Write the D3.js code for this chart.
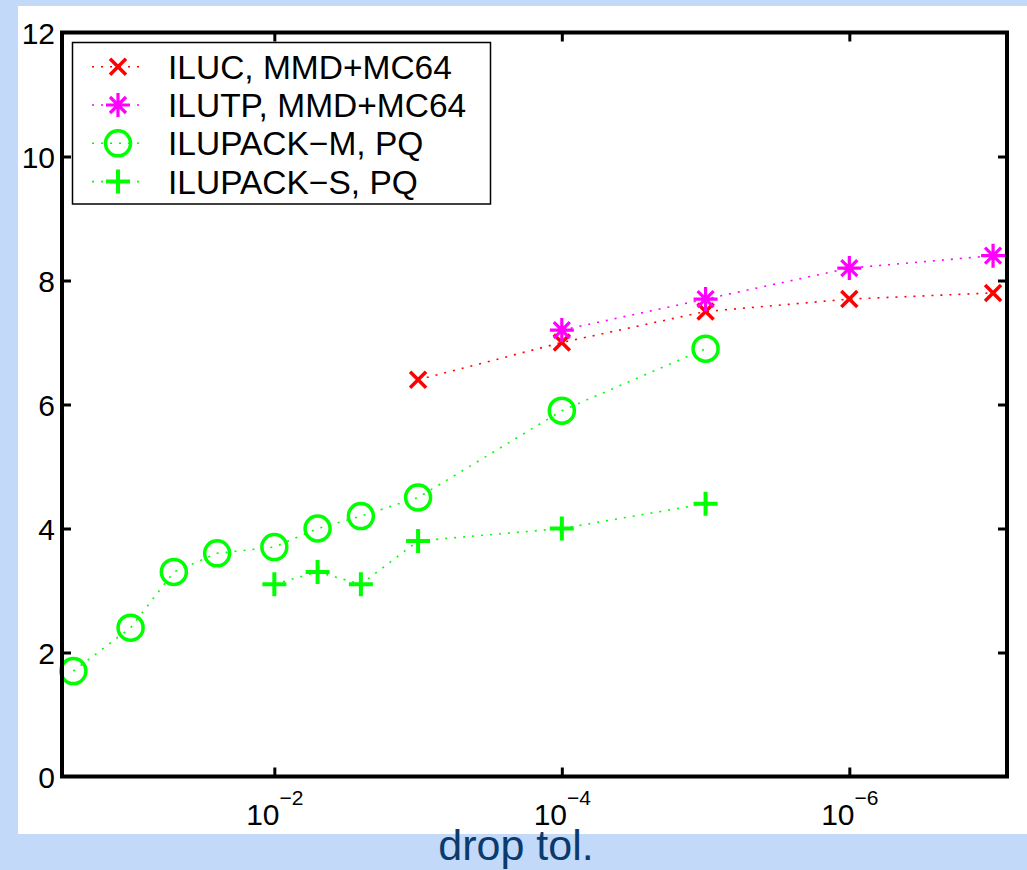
<!DOCTYPE html>
<html>
<head>
<meta charset="utf-8">
<script src="https://cdn.jsdelivr.net/npm/d3@7"></script>
<style>
  body { margin: 0; background: #c2d9fa; }
  svg { display: block; font-family: "Liberation Sans", Arial, sans-serif; }
</style>
</head>
<body>
<svg width="1027" height="870"></svg>
<script>

// drop tolerances (x) and values (y) per method
const tolILUC = [1e-3, 1e-4, 1e-5, 1e-6, 1e-7];
const valILUC = [6.4, 7.0, 7.5, 7.7, 7.8];

const tolILUTP = [1e-4, 1e-5, 1e-6, 1e-7];
const valILUTP = [7.2, 7.7, 8.2, 8.4];

const tolM = [0.25, 0.1, 0.05, 0.025, 0.01, 5e-3, 2.5e-3, 1e-3, 1e-4, 1e-5];
const valM = [1.7, 2.4, 3.3, 3.6, 3.7, 4.0, 4.2, 4.5, 5.9, 6.9];

const tolS = [0.01, 5e-3, 2.5e-3, 1e-3, 1e-4, 1e-5];
const valS = [3.1, 3.3, 3.1, 3.8, 4.0, 4.4];

const seriesNames = ['ILUC, MMD+MC64', 'ILUTP, MMD+MC64', 'ILUPACK\u2212M, PQ', 'ILUPACK\u2212S, PQ'];
const xTicks = [1e-2, 1e-4, 1e-6];
const yTicks = [0, 2, 4, 6, 8, 10, 12];
const xDomain = [0.3, 8e-8];
const yDomain = [0, 12];

const series = [
  { name: seriesNames[0], tol: tolILUC, val: valILUC, color: '#ff0000', marker: 'x' },
  { name: seriesNames[1], tol: tolILUTP, val: valILUTP, color: '#ff00ff', marker: 'star' },
  { name: seriesNames[2], tol: tolM, val: valM, color: '#00ff00', marker: 'circle' },
  { name: seriesNames[3], tol: tolS, val: valS, color: '#00ff00', marker: 'plus' }
];

const svg = d3.select('svg');
const plotL = 62, plotR = 1007, plotT = 32.5, plotB = 776.5;

svg.append('rect').attr('x', 18).attr('y', 6).attr('width', 1009).attr('height', 828).attr('fill', '#fff');

const x = d3.scaleLog().domain(xDomain).range([plotL, plotR]);
const y = d3.scaleLinear().domain(yDomain).range([plotB, plotT]);

// lines + markers
const line = d3.line().x(d => x(d[0])).y(d => y(d[1]));
const dots = '2 7';

function drawMarker(g, type, color) {
  g.attr('stroke', color).attr('fill', 'none');
  if (type === 'x') {
    g.attr('stroke-width', 3.5);
    g.append('path').attr('d', 'M-8,-8L8,8M-8,8L8,-8');
  } else if (type === 'star') {
    g.attr('stroke-width', 3.2);
    g.append('path').attr('d', 'M0,-12V12M-12,0H12M-8,-8L8,8M-8,8L8,-8');
  } else if (type === 'circle') {
    g.attr('stroke-width', 3.5);
    g.append('circle').attr('r', 12.5);
  } else {
    g.attr('stroke-width', 4);
    g.append('path').attr('d', 'M0,-12V12M-12,0H12');
  }
}

series.forEach(s => {
  const pts = d3.zip(s.tol, s.val);
  svg.append('path')
    .attr('d', line(pts))
    .attr('fill', 'none')
    .attr('stroke', s.color)
    .attr('stroke-width', 1.6)
    .attr('stroke-dasharray', dots);
  pts.forEach(p => {
    const g = svg.append('g').attr('transform', `translate(${x(p[0])},${y(p[1])})`);
    drawMarker(g, s.marker, s.color);
  });
});

// axes, ticks inward on all four sides
const tick = 9;
const fmtNone = () => '';

const gBottom = svg.append('g').attr('transform', `translate(0,${plotB})`)
  .call(d3.axisBottom(x).tickValues(xTicks).tickSizeInner(-tick).tickSizeOuter(0).tickPadding(16));
const gTop = svg.append('g').attr('transform', `translate(0,${plotT})`)
  .call(d3.axisTop(x).tickValues(xTicks).tickSizeInner(-tick).tickSizeOuter(0).tickFormat(fmtNone));
const gLeft = svg.append('g').attr('transform', `translate(${plotL},0)`)
  .call(d3.axisLeft(y).tickValues(yTicks).tickSizeInner(-tick).tickSizeOuter(0).tickPadding(16));
const gRight = svg.append('g').attr('transform', `translate(${plotR},0)`)
  .call(d3.axisRight(y).tickValues(yTicks).tickSizeInner(-tick).tickSizeOuter(0).tickFormat(fmtNone));

[gBottom, gTop, gLeft, gRight].forEach(g => {
  g.select('.domain').remove();
  g.selectAll('.tick line').attr('stroke', '#000').attr('stroke-width', 3);
  g.selectAll('.tick text').attr('fill', '#000').attr('font-size', 30).attr('font-family', null);
});
gLeft.selectAll('.tick').filter(d => d === 0 || d === 12).select('line').remove();
gRight.selectAll('.tick').filter(d => d === 0 || d === 12).select('line').remove();

gLeft.selectAll('.tick text').attr('x', -7).attr('dy', '0.36em');

gBottom.selectAll('.tick text')
  .text(null)
  .attr('y', 0)
  .attr('dy', 48.5)
  .each(function (d) {
    const t = d3.select(this);
    t.append('tspan').text('10');
    t.append('tspan').attr('dy', -20).attr('font-size', 21).text('\u2212' + Math.round(-Math.log10(d)));
  });

// box
svg.append('rect')
  .attr('x', plotL).attr('y', plotT)
  .attr('width', plotR - plotL).attr('height', plotB - plotT)
  .attr('fill', 'none').attr('stroke', '#000').attr('stroke-width', 4);

// x label
svg.append('text')
  .attr('x', 516).attr('y', 860)
  .attr('text-anchor', 'middle')
  .attr('font-size', 43)
  .attr('fill', '#0b3a6c')
  .text('drop tol.');

// legend
const legend = svg.append('g');
legend.append('rect')
  .attr('x', 72.5).attr('y', 42.5).attr('width', 418).attr('height', 161.5)
  .attr('fill', '#fff').attr('stroke', '#000').attr('stroke-width', 1.5);

series.forEach((s, i) => {
  const cy = 66.7 + i * 38.3;
  const row = legend.append('g').attr('transform', `translate(0,${cy})`);
  row.append('line')
    .attr('x1', 92).attr('x2', 141).attr('y1', 0).attr('y2', 0)
    .attr('stroke', s.color).attr('stroke-width', 1.6)
    .attr('stroke-dasharray', dots);
  drawMarker(row.append('g').attr('transform', 'translate(118,0)'), s.marker, s.color);
  row.append('text')
    .attr('x', 168).attr('y', 0).attr('dy', '0.36em')
    .attr('font-size', 33.5)
    .text(s.name);
});

</script>
</body>
</html>
